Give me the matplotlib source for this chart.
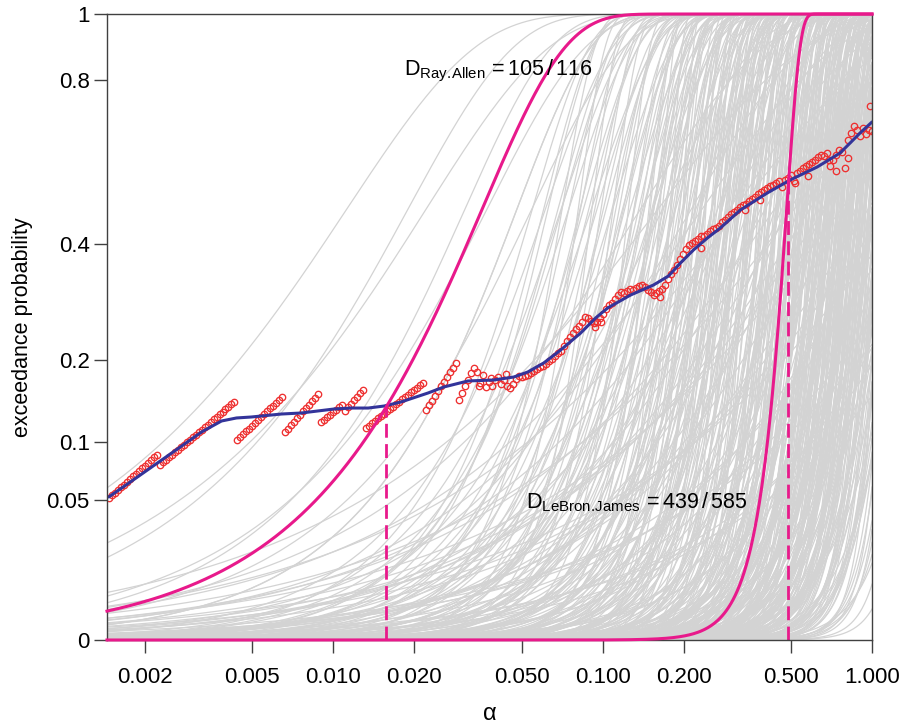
import numpy as np
import matplotlib
matplotlib.use("Agg")
import matplotlib.pyplot as plt

plt.rcParams['font.family'] = ['Liberation Sans', 'DejaVu Sans']
plt.rcParams['mathtext.fontset'] = 'custom'
plt.rcParams['mathtext.rm'] = 'Liberation Sans'
plt.rcParams['mathtext.it'] = 'Liberation Sans:italic'

# ---------------- data ----------------
x_ticks = [0.002, 0.005, 0.01, 0.02, 0.05, 0.1, 0.2, 0.5, 1.0]
x_tick_labels = ['0.002', '0.005', '0.010', '0.020', '0.050', '0.100', '0.200', '0.500', '1.000']
y_ticks = [0, 0.05, 0.1, 0.2, 0.4, 0.8, 1]
y_tick_labels = ['0', '0.05', '0.1', '0.2', '0.4', '0.8', '1']

# grey player curves: Weibull-type exceedance curves (scale alpha0, shape k)
grey_a0 = [
    # gentle curves, upper left
    0.0165, 0.026, 0.032, 0.040, 0.050, 0.060, 0.072, 0.085,
    # moderate curves
    0.06, 0.065, 0.07, 0.075, 0.08, 0.085, 0.09, 0.095, 0.10, 0.105, 0.11, 0.115, 0.12, 0.125, 0.13,
    0.135, 0.14, 0.145, 0.15, 0.155, 0.16, 0.165, 0.17, 0.175, 0.18, 0.185, 0.19, 0.195, 0.20, 0.21,
    0.22, 0.23, 0.24, 0.25, 0.26, 0.27, 0.28, 0.29, 0.30, 0.31, 0.32, 0.33, 0.34, 0.35, 0.36,
    0.37, 0.38, 0.39, 0.40, 0.41,
    0.072, 0.078, 0.083, 0.088, 0.093, 0.098, 0.103, 0.108, 0.113, 0.118, 0.123, 0.128, 0.133, 0.138, 0.143,
    0.148, 0.153, 0.158, 0.163, 0.168, 0.173, 0.178, 0.183, 0.188, 0.193, 0.198, 0.205, 0.212, 0.218, 0.225,
    0.232, 0.238, 0.245, 0.252, 0.258, 0.265, 0.272, 0.278, 0.285, 0.292, 0.30, 0.31, 0.32, 0.33, 0.34,
    # gentle low fan
    0.25, 0.3, 0.35, 0.4, 0.45, 0.5, 0.55, 0.6, 0.65, 0.7, 0.75, 0.8, 0.85, 0.9, 1.0,
    1.1, 1.2, 1.3, 1.4, 1.5, 1.7, 1.9, 2.1, 2.4, 2.7, 3.0, 3.5, 4.0, 0.2, 0.22,
    0.28, 0.33, 0.38, 0.42, 0.48, 0.52, 0.58, 0.62, 0.68, 0.72, 0.78, 0.82, 0.88, 0.95, 1.05,
    1.15, 1.25, 1.35, 1.45, 1.6,
    # steep curves, right
    0.16, 0.17, 0.175, 0.185, 0.19, 0.2, 0.205, 0.215, 0.22, 0.23, 0.235, 0.245, 0.25, 0.26, 0.265,
    0.275, 0.28, 0.29, 0.295, 0.305, 0.31, 0.315, 0.325, 0.33, 0.335, 0.345, 0.35, 0.355, 0.365, 0.37,
    0.375, 0.385, 0.39, 0.395, 0.405, 0.41, 0.415, 0.425, 0.43, 0.435, 0.445, 0.45, 0.455, 0.46, 0.47,
    0.475, 0.48, 0.49, 0.495, 0.5, 0.505, 0.515, 0.52, 0.525, 0.53, 0.54, 0.545, 0.55, 0.555, 0.565,
    0.57, 0.575, 0.58, 0.59, 0.595, 0.6, 0.605, 0.615, 0.62, 0.625, 0.63, 0.64, 0.645, 0.65, 0.655,
    0.665, 0.67, 0.675, 0.68, 0.69, 0.695, 0.7, 0.705, 0.715, 0.72, 0.725, 0.73, 0.74, 0.745, 0.75,
    0.755, 0.765, 0.77, 0.775, 0.78, 0.79, 0.795, 0.8, 0.81, 0.815, 0.82, 0.83, 0.835, 0.84, 0.85,
    0.855, 0.86, 0.87, 0.875, 0.88, 0.89, 0.895, 0.9, 0.91, 0.915, 0.925, 0.93, 0.94, 0.945, 0.955,
    0.96, 0.97, 0.975, 0.985, 0.99, 1.0, 1.01, 1.02, 1.03, 1.04, 1.05, 1.06, 1.07, 1.08, 1.09,
    1.1, 1.115, 1.13, 1.145, 1.16, 1.175, 1.19, 1.205, 1.22, 1.24, 1.26, 1.28, 1.3, 1.32, 1.35,
    0.21, 0.225, 0.24, 0.255, 0.27, 0.285, 0.3, 0.312, 0.322, 0.338, 0.348, 0.358, 0.368, 0.38, 0.388,
    0.398, 0.408, 0.418, 0.428, 0.438, 0.442, 0.452, 0.458, 0.466, 0.472, 0.478, 0.486, 0.492, 0.498, 0.508,
    0.512, 0.518, 0.528, 0.535, 0.542, 0.548, 0.552, 0.56, 0.568, 0.578, 0.585, 0.592, 0.598, 0.61, 0.618,
    0.628, 0.635, 0.642, 0.648, 0.652, 0.66, 0.672, 0.678, 0.685, 0.692, 0.698, 0.708, 0.712, 0.718, 0.728,
    0.735, 0.742, 0.748, 0.758, 0.762, 0.768, 0.772, 0.785, 0.792, 0.798, 0.805, 0.812, 0.818, 0.825, 0.832,
    0.838, 0.845, 0.852, 0.858, 0.865, 0.872, 0.878, 0.885, 0.892, 0.898, 0.905, 0.912, 0.92, 0.928, 0.935,
    0.942, 0.95, 0.958, 0.965, 0.972, 0.98, 0.995, 1.005, 1.015, 1.025, 1.035, 1.045, 1.055, 1.065, 1.075,
    1.085, 1.095, 1.108, 1.122, 1.138, 1.152, 1.168, 1.182, 1.198, 1.212, 1.23, 1.25, 1.27, 1.29, 1.31,
    1.33, 1.36, 1.38, 1.4, 1.43, 1.46, 1.5, 1.55, 1.6, 1.7,
]
grey_k = [
    1.15, 1.4, 1.2, 1.7, 1.5, 2.0, 1.6, 2.3,
    2.0, 2.6, 3.0, 2.2, 2.8, 3.5, 2.4, 3.1, 2.7, 3.8, 2.3, 3.3, 2.9, 4.0, 2.5,
    3.6, 3.0, 4.2, 2.6, 3.4, 3.9, 2.8, 4.5, 3.2, 3.7, 2.4, 4.1, 3.0, 4.8, 3.5,
    2.7, 4.3, 3.3, 5.0, 3.8, 2.9, 4.6, 3.4, 5.3, 4.0, 3.1, 4.9, 3.6, 5.6, 4.2,
    3.3, 5.1, 3.9, 6.0, 4.4,
    3.2, 4.5, 2.7, 5.5, 3.8, 6.2, 3.0, 4.9, 2.6, 5.8, 3.5, 4.2, 6.8, 2.9, 5.1,
    3.7, 4.6, 7.2, 3.3, 5.4, 4.0, 6.5, 3.1, 4.8, 5.9, 3.6, 7.5, 4.3, 5.2, 3.4,
    6.0, 4.7, 8.0, 3.9, 5.6, 4.4, 6.9, 5.0, 3.8, 7.8, 4.6, 6.3, 5.3, 8.5, 4.9,
    1.0, 1.3, 1.1, 1.5, 1.2, 1.0, 1.4, 1.7, 1.1, 1.3, 1.6, 1.0, 1.2, 1.5, 1.1,
    1.4, 1.0, 1.8, 1.2, 1.5, 1.1, 1.3, 1.0, 1.6, 1.2, 1.4, 1.1, 1.3, 1.2, 1.6,
    1.9, 2.1, 1.8, 2.3, 2.0, 2.5, 2.2, 2.8, 2.4, 3.0, 2.6, 3.2, 2.1, 2.9, 2.3,
    3.4, 2.7, 3.6, 2.5, 3.1,
    7.0, 10.5, 5.2, 12.5, 8.0, 6.1, 14.0, 9.0, 4.6, 11.0, 6.6, 8.6, 13.0, 5.6, 10.0,
    7.5, 15.5, 9.5, 6.3, 12.0, 7.0, 10.5, 5.2, 12.5, 8.0, 6.1, 14.0, 9.0, 4.6, 11.0,
    6.6, 8.6, 13.0, 5.6, 10.0, 7.5, 15.5, 9.5, 6.3, 12.0, 7.0, 10.5, 5.2, 12.5, 8.0,
    6.1, 14.0, 9.0, 4.6, 11.0, 6.6, 8.6, 13.0, 5.6, 10.0, 7.5, 15.5, 9.5, 6.3, 12.0,
    7.0, 10.5, 5.2, 12.5, 8.0, 6.1, 14.0, 9.0, 4.6, 11.0, 6.6, 8.6, 13.0, 5.6, 10.0,
    7.5, 15.5, 9.5, 6.3, 12.0, 7.0, 10.5, 5.2, 12.5, 8.0, 6.1, 14.0, 9.0, 4.6, 11.0,
    6.6, 8.6, 13.0, 5.6, 10.0, 7.5, 15.5, 9.5, 6.3, 12.0, 7.0, 10.5, 5.2, 12.5, 8.0,
    6.1, 14.0, 9.0, 4.6, 11.0, 6.6, 8.6, 13.0, 5.6, 10.0, 7.5, 15.5, 9.5, 6.3, 12.0,
    7.0, 10.5, 5.2, 12.5, 8.0, 6.1, 14.0, 9.0, 4.6, 11.0, 6.6, 8.6, 13.0, 5.6, 10.0,
    7.5, 15.5, 9.5, 6.3, 12.0, 7.0, 10.5, 5.2, 12.5, 8.0, 6.1, 14.0, 9.0, 4.6, 11.0,
    8.5, 5.8, 11.5, 7.2, 13.5, 6.4, 9.8, 4.9, 12.8, 7.9, 5.4, 10.8, 8.9, 6.9, 14.5,
    5.1, 9.2, 11.9, 6.0, 8.2, 8.5, 5.8, 11.5, 7.2, 13.5, 6.4, 9.8, 4.9, 12.8, 7.9,
    5.4, 10.8, 8.9, 6.9, 14.5, 5.1, 9.2, 11.9, 6.0, 8.2, 8.5, 5.8, 11.5, 7.2, 13.5,
    6.4, 9.8, 4.9, 12.8, 7.9, 5.4, 10.8, 8.9, 6.9, 14.5, 5.1, 9.2, 11.9, 6.0, 8.2,
    8.5, 5.8, 11.5, 7.2, 13.5, 6.4, 9.8, 4.9, 12.8, 7.9, 5.4, 10.8, 8.9, 6.9, 14.5,
    5.1, 9.2, 11.9, 6.0, 8.2, 8.5, 5.8, 11.5, 7.2, 13.5, 6.4, 9.8, 4.9, 12.8, 7.9,
    5.4, 10.8, 8.9, 6.9, 14.5, 5.1, 9.2, 11.9, 6.0, 8.2, 8.5, 5.8, 11.5, 7.2, 13.5,
    6.4, 9.8, 4.9, 12.8, 7.9, 5.4, 10.8, 8.9, 6.9, 14.5, 5.1, 9.2, 11.9, 6.0, 8.2,
    8.5, 5.8, 11.5, 7.2, 13.5, 6.4, 9.8, 4.9, 12.8, 7.9,
]

# highlighted players (Ray Allen, LeBron James)
highlight_a0 = [0.0458, 0.502]
highlight_k = [1.78, 11.0]
highlight_cross_alpha = [0.01566, 0.487]
highlight_cross_y = [0.1409, 0.54]

# red points: observed exceedance on an alpha grid
red_alpha_range = (0.001468, 1.0)
red_y = [
    0.0515, 0.0534, 0.0555, 0.0575, 0.0596, 0.0617, 0.0639, 0.0661, 0.0683, 0.0706,
    0.0729, 0.0752, 0.0776, 0.0800, 0.0825, 0.0850, 0.0873,
    0.0782, 0.0804, 0.0828, 0.0851, 0.0874, 0.0899, 0.0923, 0.0948, 0.0972, 0.0998,
    0.1024, 0.1050, 0.1077, 0.1103, 0.1130, 0.1157, 0.1185, 0.1213, 0.1241, 0.1270,
    0.1299, 0.1328, 0.1358, 0.1388, 0.1418, 0.1449,
    0.1021, 0.1051, 0.1080, 0.1110, 0.1141, 0.1173, 0.1204, 0.1236, 0.1269, 0.1302,
    0.1335, 0.1369, 0.1403, 0.1438, 0.1472, 0.1508,
    0.1104, 0.1140, 0.1178, 0.1216, 0.1255, 0.1294, 0.1334, 0.1375, 0.1415, 0.1458,
    0.1499, 0.1542,
    0.1209, 0.1237, 0.1266, 0.1294, 0.1323, 0.1352, 0.1382, 0.1412,
    0.1341, 0.1382, 0.1425, 0.1467, 0.1512, 0.1556, 0.1601,
    0.1147, 0.1173, 0.1199, 0.1225, 0.1252, 0.1279, 0.1307, 0.1334, 0.1362, 0.1390,
    0.1419, 0.1447, 0.1476, 0.1506, 0.1536, 0.1564, 0.1595, 0.1626, 0.1657, 0.1687,
    0.1350, 0.1406, 0.1462, 0.1520, 0.1580, 0.1640, 0.1701, 0.1764, 0.1827, 0.1892,
    0.1958,
    0.1470, 0.1554, 0.1641, 0.1730, 0.1822, 0.1888,
    0.1833, 0.1685, 0.1792, 0.1634, 0.1699, 0.1647, 0.1725, 0.1765, 0.1672, 0.1725,
    0.1647, 0.1621, 0.1672, 0.1738, 0.1778,
    0.1765, 0.1778, 0.1792, 0.1819, 0.1847, 0.1874, 0.1902, 0.1916, 0.1944, 0.1986,
    0.2015, 0.2058, 0.2102, 0.2131, 0.2206, 0.2281, 0.2343, 0.2405, 0.2468, 0.2516,
    0.2581, 0.2662, 0.2646, 0.2597, 0.2564, 0.2581, 0.2646, 0.2712, 0.2796, 0.2864,
    0.2898, 0.2967, 0.3037, 0.3090, 0.3072, 0.3108, 0.3144, 0.3126, 0.3162, 0.3198,
    0.3216, 0.3180, 0.3126, 0.3090, 0.3037, 0.3072, 0.3108, 0.3144, 0.3216, 0.3326,
    0.3418, 0.3494, 0.3588, 0.3704, 0.3802, 0.3901, 0.3981, 0.4022, 0.4063, 0.4104,
    0.4165, 0.4165, 0.4206, 0.4269, 0.4310, 0.4331, 0.4374,
    0.4459, 0.4501, 0.4566, 0.4631, 0.4675, 0.4718, 0.4784, 0.4829, 0.4851, 0.4918,
    0.4963, 0.5008, 0.5076, 0.5122, 0.5167, 0.5213, 0.5259, 0.5283, 0.5329, 0.5376,
    0.5236, 0.5400, 0.5447, 0.5518, 0.5376, 0.5565, 0.5613, 0.5685, 0.5733, 0.5782,
    0.5831, 0.5880, 0.5953, 0.6003, 0.5978, 0.6053, 0.5733, 0.5880, 0.6003, 0.6127,
    0.6078, 0.5685, 0.6379, 0.6559, 0.6742, 0.6637, 0.6482, 0.6690, 0.6533, 0.6637,
    0.6611,
]
red_extra_alpha = [0.983, 0.815, 0.735, 0.693, 0.579, 0.519, 0.385, 0.339, 0.231, 0.164,
                   0.0934, 0.0984, 0.0437, 0.0347, 0.0385]
red_extra_y = [0.728, 0.593, 0.561, 0.588, 0.549, 0.533, 0.494, 0.472, 0.392, 0.300,
               0.250, 0.258, 0.181, 0.165, 0.175]

# blue smooth curve
blue_alpha = [0.001468, 0.001786, 0.002173, 0.002624, 0.003245, 0.003848, 0.004373, 0.004966,
              0.006412, 0.007609, 0.01009, 0.01166, 0.01348, 0.01545, 0.01786, 0.02249,
              0.02577, 0.03162, 0.03948, 0.04680, 0.05275, 0.06043, 0.06987, 0.08290,
              0.09418, 0.1044, 0.1270, 0.1545, 0.1756, 0.1945, 0.2173, 0.2448, 0.2734,
              0.3245, 0.4085, 0.4968, 0.6257, 0.7617, 0.903, 1.0]
blue_y = [0.0522, 0.0645, 0.0782, 0.0926, 0.1104, 0.1224, 0.1258, 0.1269,
          0.1303, 0.1315, 0.1362, 0.1373, 0.1373, 0.1397, 0.1446, 0.1557,
          0.1634, 0.1712, 0.1725, 0.1765, 0.1833, 0.1958, 0.2146, 0.2405,
          0.2646, 0.2813, 0.3037, 0.3216, 0.3381, 0.3627, 0.3881, 0.4124, 0.4331,
          0.4718, 0.5099, 0.5400, 0.5709, 0.6053, 0.6559, 0.6847]

ann_text = [r'$\mathrm{D}_{\mathrm{Ray.\!Allen}}\, = 105\,/\,116$',
            r'$\mathrm{D}_{\mathrm{LeBron.\!James}}\, = 439\,/\,585$']
ann_alpha = [0.01832, 0.0519]
ann_y = [0.8147, 0.0445]

# ---------------- colours ----------------
GREY = '#D3D3D3'
MAGENTA = '#E8198B'
RED = '#EE3030'
BLUE = '#33349A'
FRAME = '#404040'

fig = plt.figure(figsize=(9.05, 7.27), dpi=100)
ax = fig.add_axes([107 / 905, 1 - 640 / 727, (872 - 107) / 905, (640 - 14) / 727])
ax.set_xscale('log')
ax.set_yscale('function', functions=(lambda v: np.sqrt(np.clip(v, 0, None)), lambda v: np.square(v)))
ax.set_xlim(0.001446, 1.0)
ax.set_ylim(0, 1)

a_line = np.geomspace(0.001446, 1.0, 700)

def weibull(a, a0, k):
    return 1.0 - np.exp(-(a / a0) ** k)

for a0, k in zip(grey_a0, grey_k):
    ax.plot(a_line, weibull(a_line, a0, k), color=GREY, lw=0.9, zorder=1)

red_alpha = np.geomspace(red_alpha_range[0], red_alpha_range[1], len(red_y))
ax.plot(red_alpha, red_y, 'o', ms=4.6, mfc='none', mec=RED, mew=0.95, zorder=3)
ax.plot(red_extra_alpha, red_extra_y, 'o', ms=4.6, mfc='none', mec=RED, mew=0.95, zorder=3)

ax.plot(blue_alpha, blue_y, color=BLUE, lw=2.2, zorder=4, solid_capstyle='round')

for a0, k in zip(highlight_a0, highlight_k):
    ax.plot(a_line, weibull(a_line, a0, k), color=MAGENTA, lw=2.2, zorder=6, clip_on=False)
for ca, cy in zip(highlight_cross_alpha, highlight_cross_y):
    ax.plot([ca, ca], [0, cy], color=MAGENTA, lw=2.0, ls=(0, (5, 2.3)), zorder=5)

for t, xa, ya in zip(ann_text, ann_alpha, ann_y):
    ax.text(xa, ya, t, fontsize=15.5, ha='left', va='baseline', zorder=7)

for sp in ax.spines.values():
    sp.set_color(FRAME)
    sp.set_linewidth(1.0)
    sp.set_zorder(5)

ax.set_xticks(x_ticks)
ax.set_xticklabels(x_tick_labels)
ax.xaxis.set_minor_locator(matplotlib.ticker.NullLocator())
ax.set_yticks(y_ticks)
ax.set_yticklabels(y_tick_labels)
ax.yaxis.set_minor_locator(matplotlib.ticker.NullLocator())
ax.tick_params(axis='both', direction='out', length=9.5, width=1.0, color=FRAME,
               labelsize=16, labelcolor='black')
ax.tick_params(axis='x', pad=10)
ax.tick_params(axis='y', pad=3)

ax.set_xlabel('α', fontsize=17, labelpad=11)
ax.set_ylabel('exceedance probability', fontsize=15.5, labelpad=10)

fig.savefig('out.png', dpi=100)
